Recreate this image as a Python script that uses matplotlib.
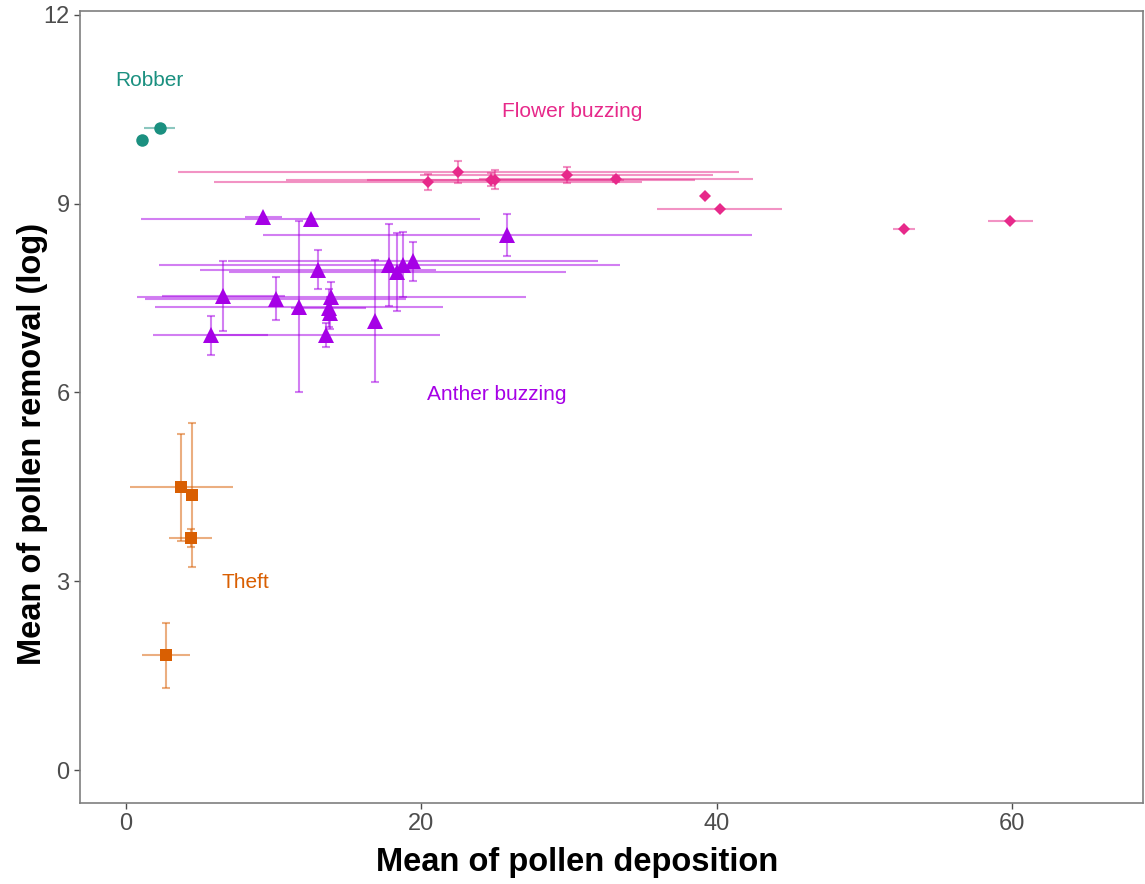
import matplotlib
matplotlib.use("Agg")
import matplotlib.pyplot as plt

plt.rcParams['font.family'] = ['Liberation Sans', 'DejaVu Sans']

# mean deposition / removal with standard errors, per pollinator behaviour
robber_x = [1.08, 2.30]
robber_y = [10.01, 10.20]
robber_xerr = [0.0, 1.05]
robber_yerr = [0.0, 0.0]

flower_x = [20.43, 22.52, 24.69, 25.00, 29.84, 33.20, 39.20, 40.20, 52.70, 59.90]
flower_y = [9.34, 9.50, 9.38, 9.38, 9.45, 9.39, 9.12, 8.92, 8.59, 8.73]
flower_xerr = [14.5, 19.0, 13.86, 8.7, 9.9, 9.3, 0.0, 4.25, 0.72, 1.55]
flower_yerr = [0.13, 0.17, 0.10, 0.15, 0.13, 0.05, 0.0, 0.0, 0.0, 0.0]

anther_x = [9.30, 12.50, 6.59, 10.13, 11.73, 13.02, 13.92, 13.74, 13.81,
            13.54, 5.73, 16.88, 17.83, 18.39, 18.73, 19.46, 25.84]
anther_y = [8.78, 8.76, 7.53, 7.49, 7.36, 7.95, 7.51, 7.34, 7.26,
            6.91, 6.91, 7.14, 8.03, 7.91, 8.03, 8.08, 8.50]
anther_xerr = [1.25, 11.5, 4.15, 8.84, 9.74, 8.0, 13.2, 2.55, 0.0,
               7.7, 3.9, 0.0, 15.6, 11.4, 0.0, 12.54, 16.57]
anther_yerr = [0.0, 0.0, 0.55, 0.34, 1.36, 0.31, 0.25, 0.3, 0.25,
               0.19, 0.31, 0.97, 0.65, 0.62, 0.52, 0.31, 0.34]

theft_x = [3.75, 4.49, 4.38, 2.73]
theft_y = [4.49, 4.37, 3.69, 1.82]
theft_xerr = [3.47, 0.0, 1.48, 1.64]
theft_yerr = [0.85, 1.15, 0.14, 0.51]

groups = [
    ("Robber", robber_x, robber_y, robber_xerr, robber_yerr, "#1B9080", "o", 9, (1.6, 10.95)),
    ("Flower buzzing", flower_x, flower_y, flower_xerr, flower_yerr, "#E7298A", "D", 6, (30.2, 10.47)),
    ("Anther buzzing", anther_x, anther_y, anther_xerr, anther_yerr, "#A600E6", "^", 11, (25.1, 5.97)),
    ("Theft", theft_x, theft_y, theft_xerr, theft_yerr, "#D95F02", "s", 8, (8.1, 2.98)),
]

fig = plt.figure(figsize=(11.45, 8.84), dpi=100)
ax = fig.add_axes([0.0699, 0.0916, 0.9281, 0.896])

for name, x, y, xe, ye, col, mk, ms, lab in groups:
    ax.errorbar(x, y, yerr=ye, fmt="none", ecolor=col, elinewidth=1.5,
                capsize=3, capthick=1.5, alpha=0.5, zorder=2)
    ax.errorbar(x, y, xerr=xe, fmt="none", ecolor=col, elinewidth=1.5,
                capsize=0, alpha=0.5, zorder=2)
    ax.plot(x, y, linestyle="none", marker=mk, color=col, markersize=ms,
            markeredgewidth=0, zorder=3)
    ax.text(lab[0], lab[1], name, color=col, fontsize=15, ha="center", va="center")

ax.set_xlim(-3.11, 68.86)
ax.set_ylim(-0.524, 12.06)
ax.set_xticks([0, 20, 40, 60])
ax.set_yticks([0, 3, 6, 9, 12])
ax.tick_params(colors="#4D4D4D", labelsize=17, length=4, width=1)
for s in ax.spines.values():
    s.set_color("#7F7F7F")
    s.set_linewidth(1.2)

ax.set_xlabel("Mean of pollen deposition", fontsize=23.5, fontweight="bold", labelpad=8.5)
ax.set_ylabel("Mean of pollen removal (log)", fontsize=23.5, fontweight="bold", labelpad=-3)
ax.xaxis.label.set_x(0.4675)
ax.yaxis.label.set_y(0.453)

fig.savefig("out.png", dpi=100)
